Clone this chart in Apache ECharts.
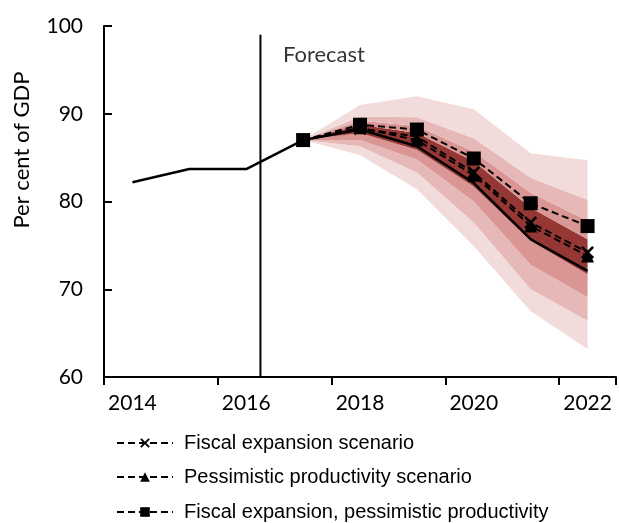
<!DOCTYPE html>
<html><head><meta charset="utf-8">
<script src="https://cdn.jsdelivr.net/npm/echarts@6/dist/echarts.min.js"></script>
<style>html,body{margin:0;padding:0;background:#fff}#c{width:619px;height:523px}</style>
</head><body><div id="c"></div>
<script>
const years = ['2014','2015','2016','2017','2018','2019','2020','2021','2022'];
const central = [82.2, 83.7, 83.7, 87.0, 88.2, 86.3, 82.1, 75.7, 72.1];
const fiscalExpansion = [null, null, null, 87.0, 88.3, 87.4, 83.3, 77.6, 74.2];
const pessimisticProductivity = [null, null, null, 87.0, 88.4, 87.0, 83.0, 77.2, 73.8];
const fiscalPessimistic = [null, null, null, 87.0, 88.75, 88.2, 84.9, 79.8, 77.2];
// fan chart band boundaries, outermost low to outermost high
const fanLow3  = [null, null, null, 87.0, 85.3, 81.4, 74.9, 67.5, 63.2];
const fanLow2  = [null, null, null, 87.0, 86.3, 83.3, 77.6, 70.0, 66.4];
const fanLow1  = [null, null, null, 87.0, 87.0, 84.8, 80.0, 72.8, 69.1];
const fanLow0  = [null, null, null, 87.0, 87.8, 85.9, 81.7, 75.5, 71.7];
const fanHigh0 = [null, null, null, 87.0, 88.75, 87.8, 84.6, 79.3, 75.7];
const fanHigh1 = [null, null, null, 87.0, 89.2, 88.6, 85.7, 81.0, 77.8];
const fanHigh2 = [null, null, null, 87.0, 89.7, 89.6, 87.2, 82.7, 80.2];
const fanHigh3 = [null, null, null, 87.0, 91.0, 92.0, 90.5, 85.5, 84.7];
const forecastStart = 2.25; // in year-index units (just after 2016)
const yTicks = [60, 70, 80, 90, 100];
const legendNames = ['Fiscal expansion scenario', 'Pessimistic productivity scenario', 'Fiscal expansion, pessimistic productivity'];

const bounds = [fanLow3, fanLow2, fanLow1, fanLow0, fanHigh0, fanHigh1, fanHigh2, fanHigh3];
const bandColors = ['#F2DCDB', '#E6B9B8', '#D99694', '#953735', '#D99694', '#E6B9B8', '#F2DCDB'];

const series = [];
series.push({
  type: 'line', stack: 'fan', data: fanLow3, symbol: 'none', silent: true,
  lineStyle: { width: 0, opacity: 0 }, z: 1
});
for (let i = 0; i < 7; i++) {
  const lo = bounds[i], hi = bounds[i + 1];
  series.push({
    type: 'line', stack: 'fan', symbol: 'none', silent: true, z: 1,
    data: hi.map((v, k) => v == null ? null : +(v - lo[k]).toFixed(3)),
    lineStyle: { width: 0, opacity: 0 },
    areaStyle: { color: bandColors[i], opacity: 1 }
  });
}
series.push({
  type: 'line', data: central, symbol: 'none', z: 3,
  lineStyle: { color: '#000', width: 2.5 }
});
const crossPath = 'path://M0,1.4 L1.4,0 L5,3.6 L8.6,0 L10,1.4 L6.4,5 L10,8.6 L8.6,10 L5,6.4 L1.4,10 L0,8.6 L3.6,5 Z';
const dash = [7, 4];
series.push({
  name: legendNames[0], type: 'line', data: fiscalExpansion, z: 4,
  symbol: crossPath, symbolSize: 13, showAllSymbol: true,
  itemStyle: { color: '#000' },
  lineStyle: { color: '#000', width: 2, type: dash }
});
series.push({
  name: legendNames[1], type: 'line', data: pessimisticProductivity, z: 5,
  symbol: 'triangle', symbolSize: 13, showAllSymbol: true,
  itemStyle: { color: '#000' },
  lineStyle: { color: '#000', width: 2, type: dash }
});
series.push({
  name: legendNames[2], type: 'line', data: fiscalPessimistic, z: 6,
  symbol: 'rect', symbolSize: 14, showAllSymbol: true,
  itemStyle: { color: '#000' },
  lineStyle: { color: '#000', width: 2, type: dash }
});
series.push({
  type: 'line', xAxisIndex: 1, data: [[forecastStart, 60], [forecastStart, 99]],
  symbol: 'none', z: 2, lineStyle: { color: '#000', width: 2 }
});
series.push({
  type: 'scatter', xAxisIndex: 1, data: [[forecastStart, 99]], symbolSize: 1, z: 7,
  itemStyle: { color: 'rgba(0,0,0,0)' },
  label: { show: true, position: 'right', distance: 22, offset: [0, 20], formatter: 'Forecast',
           fontFamily: 'Lato', fontSize: 22, color: '#000' }
});

const legendTops = [428, 462, 497];
const legends = legendNames.map((n, i) => ({
  orient: 'horizontal', left: 111, top: legendTops[i], itemWidth: 56, itemHeight: 12,
  data: [n],
  textStyle: { fontFamily: 'Liberation Sans', fontSize: 20, color: '#000', padding: [0, 0, 0, 6] }
}));

const chart = echarts.init(document.getElementById('c'), null, { renderer: 'canvas' });
chart.setOption({
  animation: false,
  grid: { left: 104, right: 3, top: 26, bottom: 146 },
  xAxis: [{
    type: 'category', data: years, boundaryGap: true,
    axisLine: { show: true, onZero: false, lineStyle: { color: '#000', width: 2 } },
    axisTick: { show: true, interval: 1, length: 8, lineStyle: { color: '#000', width: 2 } },
    axisLabel: { show: true, interval: 1, margin: 16, fontFamily: 'Lato', fontSize: 21, color: '#000' }
  }, {
    type: 'value', min: -0.5, max: 8.5, show: false
  }],
  yAxis: {
    type: 'value', min: yTicks[0], max: yTicks[yTicks.length - 1], interval: 10,
    splitLine: { show: false },
    axisLine: { show: true, onZero: false, lineStyle: { color: '#000', width: 2 } },
    axisTick: { show: true, inside: true, length: 8, lineStyle: { color: '#000', width: 2 } },
    axisLabel: { margin: 21, fontFamily: 'Lato', fontSize: 21, color: '#000' }
  },
  legend: legends,
  graphic: [{
    type: 'text', x: 22, y: 150, rotation: Math.PI / 2,
    style: { text: 'Per cent of GDP', font: '22px Lato', fill: '#000', align: 'center', verticalAlign: 'middle' }
  }],
  series: series
});
</script>
</body></html>
